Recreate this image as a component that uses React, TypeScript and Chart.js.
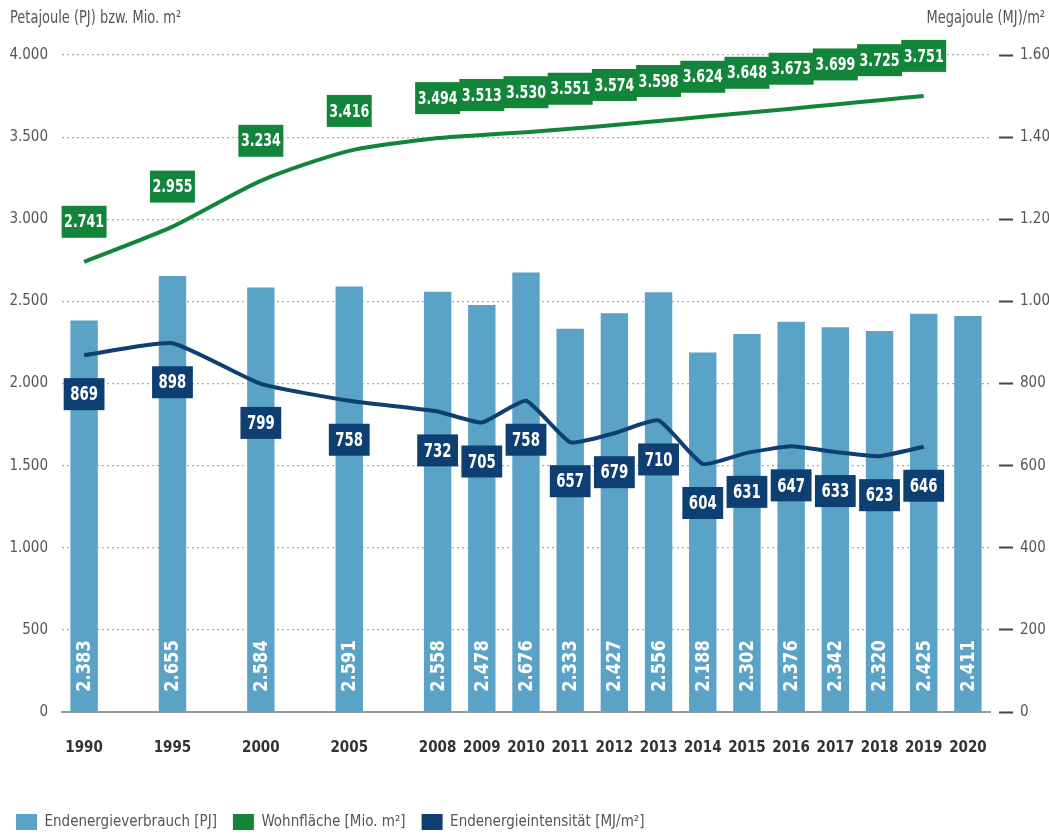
import React, { useEffect, useRef } from 'react';
import { Chart, registerables } from 'chart.js';

Chart.register(...registerables);

// Axis slots (blank slots keep the wider spacing of the early years)
const xLabels = ['1990', '', '1995', '', '2000', '', '2005', '', '2008', '2009', '2010', '2011', '2012', '2013', '2014', '2015', '2016', '2017', '2018', '2019', '2020'];
const years = ['1990', '1995', '2000', '2005', '2008', '2009', '2010', '2011', '2012', '2013', '2014', '2015', '2016', '2017', '2018', '2019', '2020'];
const energyPJ = [2383, 2655, 2584, 2591, 2558, 2478, 2676, 2333, 2427, 2556, 2188, 2302, 2376, 2342, 2320, 2425, 2411];
const livingArea = [2741, 2955, 3234, 3416, 3494, 3513, 3530, 3551, 3574, 3598, 3624, 3648, 3673, 3699, 3725, 3751, null];
const intensity = [869, 898, 799, 758, 732, 705, 758, 657, 679, 710, 604, 631, 647, 633, 623, 646, null];
const leftTicks = [0, 500, 1000, 1500, 2000, 2500, 3000, 3500, 4000];
const rightTicks = [0, 200, 400, 600, 800, 1000, 1200, 1400, 1600];

const C_BAR = '#5aa2c6';
const C_GREEN = '#12853a';
const C_BLUE = '#0d3f72';
const C_TEXT = '#555555';
const FONT = '"Liberation Sans Narrow", "DejaVu Sans Condensed", "Roboto", sans-serif';

const fmt = (v: number) => {
  const s = String(Math.round(v));
  return s.length > 3 ? s.slice(0, -3) + '.' + s.slice(-3) : s;
};

const toSlots = (arr: (number | null)[]) =>
  xLabels.map((l) => {
    const i = years.indexOf(l);
    return l && i >= 0 ? arr[i] : null;
  });

// draws text squeezed horizontally to imitate the condensed face of the original
const narrowText = (ctx: any, text: string, x: number, y: number, sx: number) => {
  ctx.save();
  ctx.translate(x, y);
  ctx.scale(sx, 1);
  ctx.fillText(text, 0, 0);
  ctx.restore();
};

const labelPlugin = {
  id: 'valueLabels',
  afterDatasetsDraw(chart: any) {
    const ctx = chart.ctx;
    const area = chart.chartArea;
    ctx.save();
    // bar values, rotated
    const barMeta = chart.getDatasetMeta(0);
    const barData = chart.data.datasets[0].data;
    ctx.font = `bold 19px ${FONT}`;
    ctx.fillStyle = '#ffffff';
    ctx.textAlign = 'center';
    ctx.textBaseline = 'middle';
    barMeta.data.forEach((el: any, i: number) => {
      const v = barData[i];
      if (v == null) return;
      ctx.save();
      ctx.translate(el.x, area.bottom - 46);
      ctx.rotate(-Math.PI / 2);
      ctx.scale(0.95, 1);
      ctx.fillText(fmt(v), 0, 1);
      ctx.restore();
    });
    // boxed labels
    const drawBoxes = (dsIndex: number, color: string, dy: number, fontSize: number, sx: number, padX: number) => {
      const meta = chart.getDatasetMeta(dsIndex);
      const data = chart.data.datasets[dsIndex].data;
      ctx.font = `bold ${fontSize}px ${FONT}`;
      meta.data.forEach((el: any, i: number) => {
        const v = data[i];
        if (v == null) return;
        const text = fmt(v);
        const w = ctx.measureText(text).width * sx + padX;
        const h = 32;
        const cx = el.x;
        const cy = el.y + dy;
        ctx.fillStyle = color;
        ctx.fillRect(cx - w / 2, cy - h / 2, w, h);
        ctx.fillStyle = '#ffffff';
        narrowText(ctx, text, cx, cy + 1, sx);
      });
    };
    drawBoxes(1, C_GREEN, -40, 18, 0.78, 5);
    drawBoxes(2, C_BLUE, 39, 20, 0.74, 13);
    ctx.restore();
  },
  afterDraw(chart: any) {
    const ctx = chart.ctx;
    ctx.save();
    ctx.font = `17px ${FONT}`;
    ctx.fillStyle = C_TEXT;
    ctx.textBaseline = 'middle';
    ctx.textAlign = 'left';
    narrowText(ctx, 'Petajoule (PJ) bzw. Mio. m²', 10, 19, 0.85);
    ctx.textAlign = 'right';
    narrowText(ctx, 'Megajoule (MJ)/m²', 1045, 19, 0.85);
    ctx.restore();
  },
};

export default function App() {
  const ref = useRef<HTMLCanvasElement | null>(null);
  useEffect(() => {
    document.body.style.margin = '0';
    const canvas = ref.current;
    if (!canvas) return;
    const chart = new Chart(canvas, {
      type: 'bar',
      data: {
        labels: xLabels,
        datasets: [
          {
            type: 'bar',
            label: 'Endenergieverbrauch [PJ]',
            data: toSlots(energyPJ),
            backgroundColor: C_BAR,
            yAxisID: 'y',
            order: 3,
            categoryPercentage: 0.62,
            barPercentage: 1,
          },
          {
            type: 'line',
            label: 'Wohnfläche [Mio. m²]',
            data: toSlots(livingArea),
            borderColor: C_GREEN,
            backgroundColor: C_GREEN,
            borderWidth: 4,
            pointRadius: 0,
            tension: 0.25,
            spanGaps: true,
            yAxisID: 'y',
            order: 1,
          },
          {
            type: 'line',
            label: 'Endenergieintensität [MJ/m²]',
            data: toSlots(intensity),
            borderColor: C_BLUE,
            backgroundColor: C_BLUE,
            borderWidth: 4,
            pointRadius: 0,
            tension: 0.15,
            spanGaps: true,
            yAxisID: 'y1',
            order: 2,
          },
        ] as any,
      },
      options: {
        responsive: false,
        animation: false,
        layout: { padding: { top: 55, left: 0, right: 0, bottom: -5 } },
        plugins: {
          tooltip: { enabled: false },
          legend: {
            position: 'bottom',
            align: 'start',
            labels: {
              boxWidth: 21,
              boxHeight: 16,
              padding: 16,
              color: C_TEXT,
              font: { family: FONT, size: 15 },
              generateLabels: (chart: any) =>
                chart.data.datasets.map((ds: any, i: number) => ({
                  text: ds.label,
                  fillStyle: [C_BAR, C_GREEN, C_BLUE][i],
                  strokeStyle: [C_BAR, C_GREEN, C_BLUE][i],
                  lineWidth: 0,
                  hidden: false,
                  datasetIndex: i,
                  fontColor: C_TEXT,
                })),
            },
          },
        },
        scales: {
          x: {
            grid: { display: false, drawTicks: false },
            border: { display: true, color: '#9a9a9a', width: 2 },
            ticks: {
              color: '#333333',
              font: { family: FONT, size: 15, weight: 'bold' },
              padding: 27,
              maxRotation: 0,
              autoSkip: false,
            },
            afterFit: (s: any) => {
              s.height = 86;
            },
          },
          y: {
            position: 'left',
            min: 0,
            max: 4000,
            afterBuildTicks: (s: any) => {
              s.ticks = leftTicks.map((v) => ({ value: v }));
            },
            grid: {
              color: (c: any) => (c.tick && c.tick.value === 0 ? 'rgba(0,0,0,0)' : '#ababab'),
              lineWidth: 1.2,
              drawTicks: false,
            },
            border: { display: false, dash: [2, 3] },
            ticks: {
              color: C_TEXT,
              font: { family: FONT, size: 15 },
              padding: 14,
              callback: (v: any) => fmt(Number(v)),
            },
            afterFit: (s: any) => {
              s.width = 62;
            },
          },
          y1: {
            position: 'right',
            min: 0,
            max: 1600,
            afterBuildTicks: (s: any) => {
              s.ticks = rightTicks.map((v) => ({ value: v }));
            },
            grid: {
              drawOnChartArea: false,
              drawTicks: true,
              tickLength: 23,
              tickColor: '#444444',
              tickWidth: 2,
              tickBorderDash: [0, 9, 14, 200],
            },
            border: { display: false },
            ticks: {
              color: C_TEXT,
              font: { family: FONT, size: 15 },
              padding: 7,
              callback: (v: any) => fmt(Number(v)),
            },
            afterFit: (s: any) => {
              s.width = 59;
            },
          },
        },
      } as any,
      plugins: [labelPlugin],
    });
    return () => chart.destroy();
  }, []);
  return <canvas ref={ref} width={1049} height={835} style={{ display: 'block' }} />;
}
